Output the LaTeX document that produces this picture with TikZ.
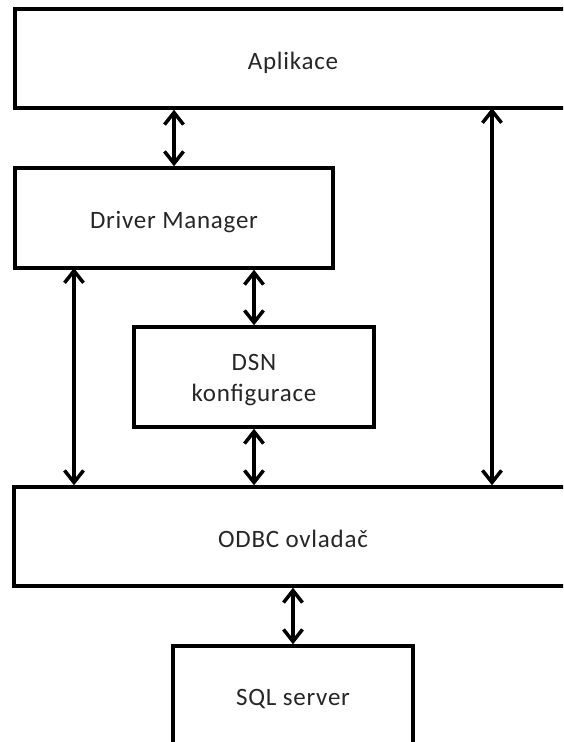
\documentclass[tikz,border=0pt]{standalone}
\usepackage{fontspec}
\setmainfont{Carlito}[LetterSpace=3]
\usetikzlibrary{arrows.meta}
\begin{document}
\begin{tikzpicture}[x=1pt,y=-1pt,
  box/.style={draw=black, line width=3.5pt, fill=white, inner sep=0pt,
    font=\fontsize{25}{32}\selectfont, text=black!85, align=center},
  arr/.style={line width=3.5pt, {Straight Barb[length=12pt,width=19pt]}-{Straight Barb[length=12pt,width=19pt]}}]
\useasboundingbox (0,0) rectangle (563,742);
\clip (0,0) rectangle (563,742);
\node[box, minimum width=556pt, minimum height=99pt] (app) at (293,58.5) {\raisebox{-4pt}[\height][\depth]{Aplikace}};
\node[box, minimum width=318pt, minimum height=100pt] (dm) at (174,218) {\raisebox{-4pt}[\height][\depth]{Driver Manager}};
\node[box, minimum width=240pt, minimum height=100pt] (dsn) at (254,377) {\raisebox{-3pt}[\height][\depth]{\begin{tabular}{@{}c@{}}DSN\\[-1pt]konfigurace\end{tabular}}};
\node[box, minimum width=558pt, minimum height=99pt] (odbc) at (293,536.5) {\raisebox{-2pt}[\height][\depth]{ODBC ovladač}};
\node[box, minimum width=240pt, minimum height=100pt] (sql) at (293,696) {\raisebox{-3pt}[\height][\depth]{SQL server}};
\coordinate (l1) at (74,268);
\coordinate (r1) at (492,108);
\draw[arr] (dm.north |- app.south) -- (dm.north);
\draw[arr] (l1) -- (l1 |- odbc.north);
\draw[arr] (dsn.north |- dm.south) -- (dsn.north);
\draw[arr] (dsn.south) -- (dsn.south |- odbc.north);
\draw[arr] (r1) -- (r1 |- odbc.north);
\draw[arr] (odbc.south -| sql.north) -- (sql.north);
\end{tikzpicture}
\end{document}
